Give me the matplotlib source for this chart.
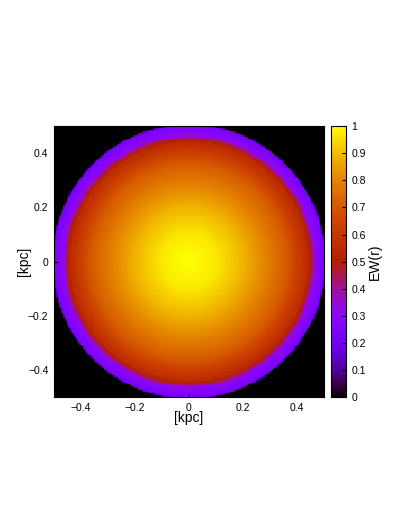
import numpy as np
import matplotlib
matplotlib.use("Agg")
import matplotlib.pyplot as plt

plt.rcParams["font.family"] = ["Liberation Sans", "DejaVu Sans"]

# radial EW profile (radius in kpc)
radius = [0.0, 0.1, 0.2, 0.3, 0.36, 0.40, 0.44, 0.455, 0.465, 0.48, 0.50, 0.507]
ew = [1.0, 0.97, 0.89, 0.78, 0.71, 0.63, 0.55, 0.45, 0.32, 0.28, 0.23, 0.08]

xticks = [-0.4, -0.2, 0, 0.2, 0.4]
xticklabels = ["\u22120.4", "\u22120.2", "0", "0.2", "0.4"]
cticks = [0, 0.1, 0.2, 0.3, 0.4, 0.5, 0.6, 0.7, 0.8, 0.9, 1]

n = 150
edges = np.linspace(-0.5, 0.5, n + 1)
centers = 0.5 * (edges[:-1] + edges[1:])
xx, yy = np.meshgrid(centers, centers)
rr = np.sqrt(xx**2 + yy**2)
grid = np.interp(rr, radius, ew, right=0.0)

fig = plt.figure(figsize=(4.09, 5.29), dpi=100)
ax = fig.add_axes([0.132, 0.2495, 0.660, 0.512])
im = ax.imshow(grid, cmap="gnuplot", vmin=0, vmax=1, origin="lower",
               extent=[-0.5, 0.5, -0.5, 0.5], interpolation="nearest", aspect="auto")
ax.set_xticks(xticks)
ax.set_yticks(xticks)
ax.set_xticklabels(xticklabels)
ax.set_yticklabels(xticklabels)
ax.tick_params(direction="in", length=3, labelsize=7.5, pad=4)
ax.set_xlabel("[kpc]", fontsize=10, labelpad=-1)
ax.set_ylabel("[kpc]", fontsize=10, labelpad=-2)

cax = fig.add_axes([0.809, 0.2495, 0.037, 0.512])
cb = fig.colorbar(im, cax=cax, ticks=cticks)
cb.ax.set_yticklabels([f"{t:g}" for t in cticks])
cb.ax.tick_params(direction="in", length=3, labelsize=7.5, pad=4)
cb.outline.set_linewidth(0.8)
cb.set_label("EW(r)", fontsize=10, labelpad=1)

fig.savefig("out.png", dpi=100)
